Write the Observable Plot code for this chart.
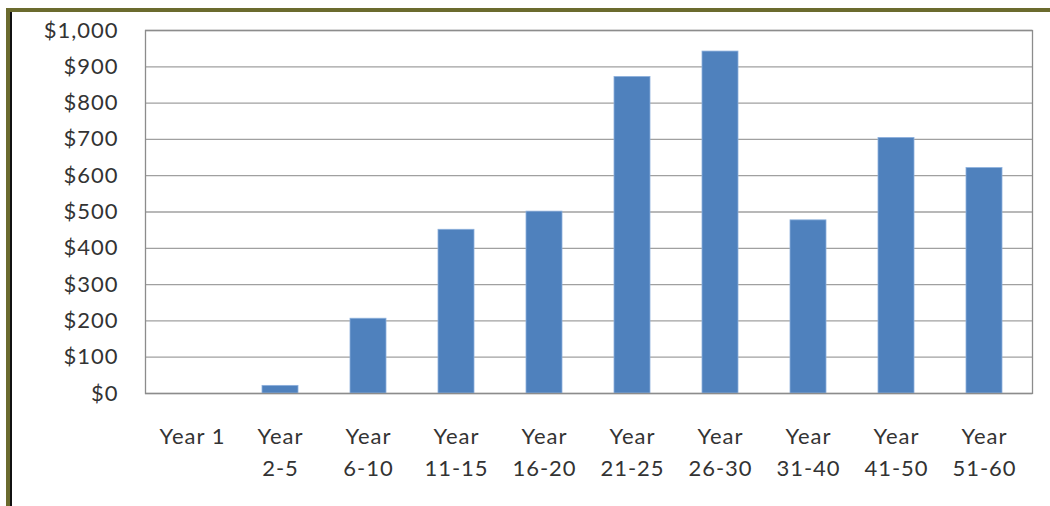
<!DOCTYPE html>
<html>
<head>
<meta charset="utf-8">
<script src="https://cdn.jsdelivr.net/npm/d3@7"></script>
<script src="https://cdn.jsdelivr.net/npm/@observablehq/plot@0.6"></script>
<style>
  html, body { margin: 0; padding: 0; background: #fff; }
  #wrap { position: relative; width: 1050px; height: 506px; overflow: hidden; }
  #chart { position: absolute; left: 0; top: 0; }
  #chart text { letter-spacing: 1px; }
  .b { position: absolute; }
</style>
</head>
<body>
<div id="wrap">
  <div id="chart"></div>
  <div class="b" style="left:6px;top:8px;width:1044px;height:4px;background:#6B6B2E"></div>
  <div class="b" style="left:6px;top:8px;width:4px;height:498px;background:#6B6B2E"></div>
  <div class="b" style="left:10px;top:12px;width:2px;height:494px;background:#111"></div>
</div>
<script>
const categories = ["Year 1", "Year\n2-5", "Year\n6-10", "Year\n11-15", "Year\n16-20", "Year\n21-25", "Year\n26-30", "Year\n31-40", "Year\n41-50", "Year\n51-60"];
const values = [0, 21, 206, 451, 501, 872, 942, 477, 704, 621];
const yTicks = [0, 100, 200, 300, 400, 500, 600, 700, 800, 900, 1000];

const data = categories.map((c, i) => ({cat: c, value: values[i]}));
const fmt = d => "$" + d3.format(",")(d);

const chart = Plot.plot({
  width: 1050,
  height: 506,
  marginLeft: 145,
  marginRight: 18,
  marginTop: 30,
  marginBottom: 113,
  style: {fontFamily: "Lato", fontSize: "22px", color: "#333", background: "transparent"},
  x: {domain: categories, paddingInner: 0.59, paddingOuter: 0.295, label: null},
  y: {domain: [0, 1000], label: null},
  marks: [
    Plot.ruleY(yTicks, {stroke: "#A0A0A0", strokeWidth: 1.3, strokeOpacity: 1}),
    Plot.barY(data, {x: "cat", y: "value", fill: "#4F81BD", stroke: "#8DB0DC", strokeWidth: 0.8}),
    Plot.frame({stroke: "#8C8C8C", strokeWidth: 1.3}),
    Plot.axisY({ticks: yTicks, tickFormat: fmt, tickSize: 0, tickPadding: 27, fontSize: 22, fill: "#333"}),
    Plot.axisX({tickSize: 0, tickPadding: 28, fontSize: 22, lineHeight: 1.45, fill: "#333"})
  ]
});
document.getElementById("chart").appendChild(chart);
</script>
</body>
</html>
